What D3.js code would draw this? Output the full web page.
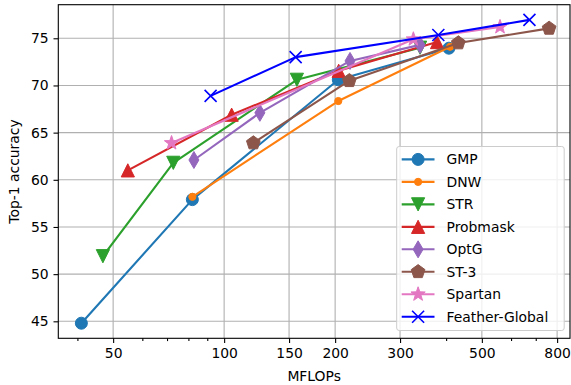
<!DOCTYPE html>
<html><head><meta charset="utf-8">
<script src="https://cdn.jsdelivr.net/npm/d3@7"></script>
<style>body{margin:0;background:#fff}svg{display:block}text{font-family:"DejaVu Sans",sans-serif}</style>
</head><body>
<svg id="c" width="571" height="385"></svg>
<script>
// ---- data ----
const seriesNames = ["GMP","DNW","STR","Probmask","OptG","ST-3","Spartan","Feather-Global"];
const colors = ["#1f77b4","#ff7f0e","#2ca02c","#d62728","#9467bd","#8c564b","#e377c2","#0000ff"];
const markers = ["circle","dot","tridown","triup","thindiamond","pentagon","star","x"];
const gmpX = [41, 82, 204, 407];        const gmpY = [44.8, 57.9, 70.6, 73.95];
const dnwX = [82, 204, 410];            const dnwY = [58.2, 68.35, 74.1];
const strX = [46.9, 72.8, 157.5, 340];  const strY = [51.9, 61.8, 70.6, 74.0];
const probX = [54.8, 104.8, 204.5, 378]; const probY = [61.0, 66.9, 71.55, 74.6];
const optgX = [82.8, 125, 219.5, 340];  const optgY = [62.1, 67.1, 72.6, 74.3];
const st3X = [120, 218.6, 431.7, 761];  const st3Y = [63.9, 70.5, 74.5, 76.05];
const spartanX = [72, 326, 560];        const spartanY = [63.9, 74.9, 76.2];
const featherX = [91.9, 156.3, 381, 673]; const featherY = [68.9, 73.0, 75.35, 76.95];
const xMajorTicks = [50, 100, 150, 200, 300, 500, 800];
const xMinorTicks = [40, 60, 70, 80, 90, 400, 600, 700];
const yTicks = [45, 50, 55, 60, 65, 70, 75];
const xLabel = "MFLOPs", yLabel = "Top-1 accuracy";

const allX = [gmpX,dnwX,strX,probX,optgX,st3X,spartanX,featherX];
const allY = [gmpY,dnwY,strY,probY,optgY,st3Y,spartanY,featherY];

// ---- layout ----
const L = 58.3, R = 570, T = 4.7, B = 338.3;
const x = d3.scaleLog().domain([35.5, 867]).range([L, R]);
const y = d3.scaleLinear().domain([43.2, 78.56]).range([B, T]);
const svg = d3.select("#c");
const FS = 13.9;

// grid
const g = svg.append("g");
g.selectAll(".gx").data(xMajorTicks).enter().append("line")
  .attr("x1", d=>x(d)).attr("x2", d=>x(d)).attr("y1", T).attr("y2", B)
  .attr("stroke", "#b0b0b0").attr("stroke-width", 1.1);
g.selectAll(".gy").data(yTicks).enter().append("line")
  .attr("x1", L).attr("x2", R).attr("y1", d=>y(d)).attr("y2", d=>y(d))
  .attr("stroke", "#b0b0b0").attr("stroke-width", 1.1);

// axes
const xAxis = d3.axisBottom(x).tickValues(xMajorTicks).tickFormat(d3.format("d")).tickSize(4.8).tickPadding(4.8);
const xa = svg.append("g").attr("transform", `translate(0,${B})`).call(xAxis);
const xAxisMinor = d3.axisBottom(x).tickValues(xMinorTicks).tickFormat("").tickSize(2.8);
const xm = svg.append("g").attr("transform", `translate(0,${B})`).call(xAxisMinor);
const yAxis = d3.axisLeft(y).tickValues(yTicks).tickSize(4.8).tickPadding(4.8);
const ya = svg.append("g").attr("transform", `translate(${L},0)`).call(yAxis);
[xa, xm, ya].forEach(a => {
  a.select(".domain").remove();
  a.selectAll("line").attr("stroke", "#000").attr("stroke-width", 1.1);
  a.selectAll("text").attr("font-size", FS).attr("fill", "#000").attr("font-family", "DejaVu Sans");
});
// spines
svg.append("rect").attr("x", L).attr("y", T).attr("width", R - L).attr("height", B - T)
  .attr("fill", "none").attr("stroke", "#000").attr("stroke-width", 1.1);

// labels
svg.append("text").attr("x", (L + R) / 2).attr("y", 380.5).attr("text-anchor", "middle")
  .attr("font-size", FS).text(xLabel);
svg.append("text").attr("transform", `translate(18.5,${(T + B) / 2}) rotate(-90)`)
  .attr("text-anchor", "middle").attr("font-size", FS).text(yLabel);

// marker paths
function markerPath(type) {
  const p = d3.path();
  if (type === "circle") { p.arc(0, 0, 6, 0, 2 * Math.PI); }
  else if (type === "dot") { p.arc(0, 0, 3.6, 0, 2 * Math.PI); }
  else if (type === "tridown") { const s = 6.6; p.moveTo(0, s); p.lineTo(-s, -s); p.lineTo(s, -s); p.closePath(); }
  else if (type === "triup") { const s = 6.6; p.moveTo(0, -s); p.lineTo(-s, s); p.lineTo(s, s); p.closePath(); }
  else if (type === "thindiamond") { p.moveTo(0, -8.5); p.lineTo(5, 0); p.lineTo(0, 8.5); p.lineTo(-5, 0); p.closePath(); }
  else if (type === "pentagon") {
    const r = 7.2;
    for (let i = 0; i < 5; i++) { const a = -Math.PI / 2 + i * 2 * Math.PI / 5; const px = r * Math.cos(a), py = r * Math.sin(a); i ? p.lineTo(px, py) : p.moveTo(px, py); }
    p.closePath();
  }
  else if (type === "star") {
    const r1 = 7.5, r2 = 3.0;
    for (let i = 0; i < 10; i++) { const a = -Math.PI / 2 + i * Math.PI / 5; const r = i % 2 ? r2 : r1; const px = r * Math.cos(a), py = r * Math.sin(a); i ? p.lineTo(px, py) : p.moveTo(px, py); }
    p.closePath();
  }
  else if (type === "x") { const s = 6; p.moveTo(-s, -s); p.lineTo(s, s); p.moveTo(-s, s); p.lineTo(s, -s); }
  return p.toString();
}
function drawMarker(sel, type, color) {
  sel.append("path").attr("d", markerPath(type))
    .attr("fill", type === "x" ? "none" : color)
    .attr("stroke", color).attr("stroke-width", type === "x" ? 1.6 : 1);
}

// series
const line = d3.line().x(d => x(d[0])).y(d => y(d[1]));
seriesNames.forEach((name, i) => {
  const pts = allX[i].map((v, j) => [v, allY[i][j]]);
  const sg = svg.append("g");
  sg.append("path").attr("d", line(pts)).attr("fill", "none")
    .attr("stroke", colors[i]).attr("stroke-width", 2.1).attr("stroke-linejoin", "round");
  pts.forEach(d => {
    const m = sg.append("g").attr("transform", `translate(${x(d[0])},${y(d[1])})`);
    drawMarker(m, markers[i], colors[i]);
  });
});

// legend
const lg = svg.append("g");
const lx0 = 396.7, ly0 = 146.5, lw = 167.5, lh = 184;
lg.append("rect").attr("x", lx0).attr("y", ly0).attr("width", lw).attr("height", lh)
  .attr("rx", 2.5).attr("fill", "#fff").attr("fill-opacity", 0.8)
  .attr("stroke", "#cccccc").attr("stroke-width", 1);
seriesNames.forEach((name, i) => {
  const cy = 159.4 + i * 22.48;
  lg.append("line").attr("x1", 401.7).attr("x2", 434.5).attr("y1", cy).attr("y2", cy)
    .attr("stroke", colors[i]).attr("stroke-width", 2.1);
  const m = lg.append("g").attr("transform", `translate(418.1,${cy})`);
  drawMarker(m, markers[i], colors[i]);
  lg.append("text").attr("x", 446.5).attr("y", cy).attr("dy", "0.36em")
    .attr("font-size", FS).attr("fill", "#000").text(name);
});
</script>
</body></html>
